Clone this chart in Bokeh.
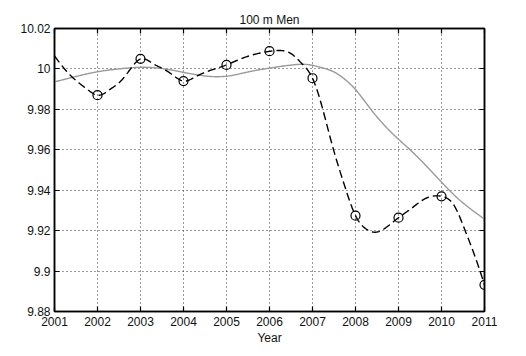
import numpy as np
from bokeh.plotting import figure
from bokeh.models import FixedTicker, LinearAxis, Range1d
from bokeh.embed import file_html
from bokeh.resources import INLINE

# ---- data ----
years = [2002, 2003, 2004, 2005, 2006, 2007, 2008, 2009, 2010, 2011]
times = [9.987, 10.005, 9.994, 10.002, 10.0088, 9.9954, 9.9274, 9.9264, 9.937, 9.8932]

# dashed interpolating curve, read along its path
dash_years = [2001.0, 2001.3, 2001.55, 2001.8, 2002.0, 2002.3, 2002.55, 2002.75, 2003.0,
              2003.3, 2003.6, 2003.9, 2004.0, 2004.25, 2004.5, 2005.0, 2005.3, 2005.6,
              2006.0, 2006.25, 2006.5, 2006.75, 2007.0, 2007.2, 2007.45, 2007.75, 2008.0,
              2008.25, 2008.5, 2008.75, 2009.0, 2009.3, 2009.6, 2010.0, 2010.3, 2010.55,
              2010.8, 2011.0]
dash_times = [10.0064, 9.9984, 9.9934, 9.9893, 9.9870, 9.9900, 9.9942, 9.9995, 10.0049,
              10.0025, 9.9992, 9.9948, 9.9940, 9.9958, 9.9983, 10.0020, 10.0047, 10.0069,
              10.0087, 10.0091, 10.0076, 10.0027, 9.9954, 9.9830, 9.9630, 9.9420, 9.9274,
              9.9208, 9.9193, 9.9222, 9.9264, 9.9310, 9.9356, 9.9370, 9.9322, 9.9200,
              9.9060, 9.8932]

# gray smooth trend, read along its path
trend_years = [2001.0, 2001.45, 2002.0, 2002.5, 2003.0, 2003.5, 2004.0, 2004.4, 2005.0,
               2005.5, 2006.0, 2006.5, 2006.95, 2007.2, 2007.45, 2007.75, 2008.0, 2008.35,
               2009.0, 2009.3, 2010.0, 2010.3, 2011.0]
trend_times = [9.9936, 9.9960, 9.9986, 10.0000, 10.0008, 10.0002, 9.9983, 9.9968, 9.9964,
               9.9985, 10.0004, 10.0019, 10.0020, 10.0007, 9.9990, 9.9949, 9.9898, 9.9802,
               9.9652, 9.9594, 9.9440, 9.9375, 9.9257]

x_ticks = [2001, 2002, 2003, 2004, 2005, 2006, 2007, 2008, 2009, 2010, 2011]
y_ticks = [9.88, 9.90, 9.92, 9.94, 9.96, 9.98, 10.00, 10.02]
y_tick_labels = ["9.88", "9.9", "9.92", "9.94", "9.96", "9.98", "10", "10.02"]

title_text = "100 m Men"
x_label = "Year"


# ---- cubic spline through read samples, only to draw them smoothly ----
def spline_eval(xk, yk, xs):
    xk = np.asarray(xk, float)
    yk = np.asarray(yk, float)
    n = len(xk)
    h = np.diff(xk)
    A = np.zeros((n, n))
    b = np.zeros(n)
    A[0, 0] = 1.0
    A[-1, -1] = 1.0
    for i in range(1, n - 1):
        A[i, i - 1] = h[i - 1]
        A[i, i] = 2 * (h[i - 1] + h[i])
        A[i, i + 1] = h[i]
        b[i] = 6 * ((yk[i + 1] - yk[i]) / h[i] - (yk[i] - yk[i - 1]) / h[i - 1])
    M = np.linalg.solve(A, b)
    out = []
    for x in xs:
        i = int(np.clip(np.searchsorted(xk, x) - 1, 0, n - 2))
        hi = h[i]
        a = xk[i + 1] - x
        c = x - xk[i]
        s = (M[i] * a ** 3 / (6 * hi) + M[i + 1] * c ** 3 / (6 * hi)
             + (yk[i] / hi - M[i] * hi / 6) * a + (yk[i + 1] / hi - M[i + 1] * hi / 6) * c)
        out.append(s)
    return np.array(out)


xs = np.linspace(dash_years[0], dash_years[-1], 501)
ys = spline_eval(dash_years, dash_times, xs)
txs = np.linspace(trend_years[0], trend_years[-1], 501)
tys = spline_eval(trend_years, trend_times, txs)

FONT = "Liberation Sans"

p = figure(width=509, height=347, output_backend="svg", toolbar_location=None,
           x_range=Range1d(x_ticks[0], x_ticks[-1]), y_range=Range1d(y_ticks[0], y_ticks[-1]),
           min_border_left=54, min_border_right=25, min_border_top=28, min_border_bottom=35,
           x_axis_label=x_label)
p.background_fill_color = "white"
p.border_fill_color = "white"
p.outline_line_color = "black"
p.outline_line_width = 1.5

p.title.text = title_text
p.title.align = "center"
p.title.text_font = FONT
p.title.text_font_size = "12px"
p.title.text_font_style = "normal"
p.title.text_color = "#111111"
p.title.standoff = 4

# gray smooth trend
p.line(txs, tys, line_color="#9a9a9a", line_width=1.4)
# dashed curve
p.line(xs, ys, line_color="black", line_width=1.4, line_dash="8 4")
# data markers
p.scatter(years, times, marker="circle", size=9, line_color="black", line_width=1.2,
          fill_color=None)

xt = FixedTicker(ticks=x_ticks, minor_ticks=[])
yt = FixedTicker(ticks=y_ticks, minor_ticks=[])
overrides = {t: l for t, l in zip(y_ticks, y_tick_labels)}


def style_axis(ax, show_labels):
    ax.axis_line_color = "black"
    ax.axis_line_width = 1.5
    ax.major_tick_line_color = "black"
    ax.major_tick_line_width = 1.2
    ax.major_tick_in = 5
    ax.major_tick_out = 0
    ax.minor_tick_line_color = None
    ax.major_label_text_font = FONT
    ax.major_label_text_font_size = "12px" if show_labels else "0px"
    ax.major_label_text_color = "#111111"


xa = p.xaxis[0]
xa.ticker = xt
style_axis(xa, True)
xa.major_label_standoff = 5
xa.axis_label_text_font = FONT
xa.axis_label_text_font_size = "12px"
xa.axis_label_text_font_style = "normal"
xa.axis_label_text_color = "#111111"
xa.axis_label_standoff = 2

ya = p.yaxis[0]
ya.ticker = yt
ya.major_label_overrides = overrides
style_axis(ya, True)
ya.major_label_standoff = 4

top = LinearAxis(ticker=xt)
style_axis(top, False)
p.add_layout(top, "above")
right = LinearAxis(ticker=yt)
style_axis(right, False)
p.add_layout(right, "right")

p.xgrid.ticker = xt
p.ygrid.ticker = yt
for g in (p.xgrid[0], p.ygrid[0]):
    g.grid_line_color = "#222222"
    g.grid_line_width = 1
    g.grid_line_dash = "1 3"
    g.grid_line_alpha = 0.9

open("out.html", "w").write(file_html(p, INLINE))
